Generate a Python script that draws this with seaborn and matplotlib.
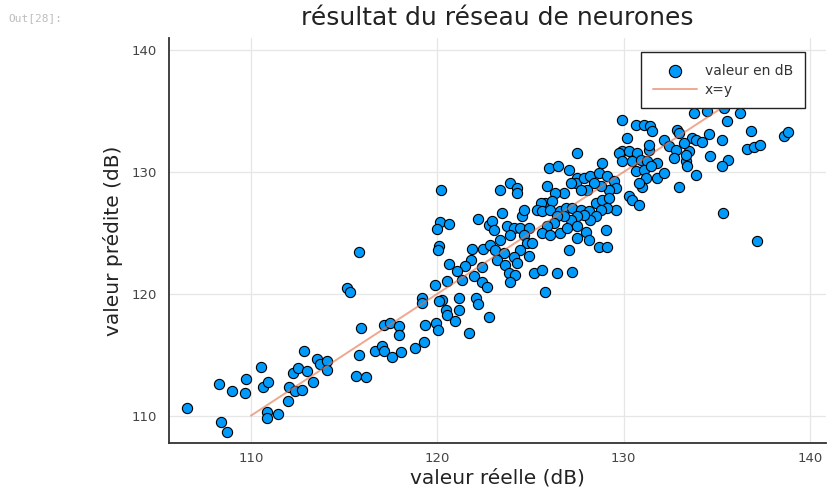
import matplotlib
matplotlib.use("Agg")
import matplotlib.pyplot as plt
import seaborn as sns
import pandas as pd

# --- data ---
valeur_reelle = [
    106.57, 108.26, 108.39, 108.69, 108.99, 109.68, 109.73, 110.52, 110.66, 110.93,
    110.88, 110.84, 111.45, 112.04, 112.01, 112.27, 112.54, 112.37, 112.73, 112.85,
    112.99, 113.32, 113.53, 113.71, 114.10, 114.07, 115.61, 116.15, 115.81, 115.91,
    115.82, 115.14, 115.32, 116.67, 117.03, 117.15, 117.56, 118.05, 117.15, 117.47,
    117.96, 117.96, 118.82, 119.27, 119.32, 119.18, 119.18, 119.95, 120.02, 119.89,
    120.22, 120.16, 120.61, 119.98, 120.07, 120.02, 120.61, 120.52, 120.25, 120.07,
    120.48, 120.52, 121.15, 121.15, 120.97, 121.69, 122.10, 122.17, 122.17, 121.87,
    122.46, 121.81, 121.51, 121.06, 121.33, 121.95, 122.40, 122.40, 122.76, 122.76,
    122.67,
    127.51, 125.98, 126.47, 127.06, 127.51, 127.42, 127.87, 128.22, 128.67, 128.85,
    129.12, 129.48, 129.57, 129.21, 128.76, 128.40, 128.04, 127.69, 127.15, 126.79,
    126.34, 125.89, 125.80, 126.16, 125.54, 125.36, 125.63, 126.07, 126.61, 126.88,
    127.24, 127.69, 128.13, 128.49, 128.85, 129.21, 129.57, 129.12, 128.76, 128.49,
    128.22, 127.87, 127.51, 127.15, 126.79, 126.43, 126.25, 125.89, 125.63, 126.07,
    126.61, 126.97, 127.51, 127.96, 128.13, 127.51, 127.06, 128.67, 129.12, 129.03,
    123.92, 123.39, 124.28, 124.25, 123.47, 122.94, 123.03, 123.74, 124.10, 124.55,
    124.64, 124.46, 124.91, 124.64, 124.82, 125.09, 124.46, 123.92, 123.39, 122.85,
    123.12, 123.56, 123.21, 123.65, 124.10, 124.28, 124.91, 123.83, 124.19, 125.18,
    125.63, 126.43, 127.24, 123.92, 125.77,
    129.89, 130.64, 131.09, 131.41, 131.54, 130.19, 129.93, 129.75, 130.28, 130.73,
    131.36, 131.36, 132.17, 132.88, 132.97, 133.69, 133.87, 132.43, 132.79, 133.51,
    132.70, 133.33, 133.42, 133.87, 133.78, 129.93, 130.46, 130.91, 131.27, 131.81,
    130.64, 131.09, 131.45, 131.18, 131.00, 131.81, 132.17, 130.82, 132.97, 130.28,
    130.46, 130.82, 133.24, 133.33,
    134.49, 135.39, 136.25, 135.53, 136.86, 138.58, 138.83, 136.64, 136.97, 137.33,
    135.26, 134.62, 135.62, 135.30, 135.35, 137.15, 134.22, 134.58,
]
valeur_predite = [
    110.66, 112.58, 109.48, 108.66, 112.05, 111.84, 113.04, 114.03, 112.33, 112.74,
    110.33, 109.79, 110.11, 112.38, 111.23, 113.53, 113.94, 112.05, 112.11, 115.34,
    113.67, 112.77, 114.63, 114.22, 114.49, 113.75, 113.29, 113.18, 114.99, 117.21,
    123.43, 120.47, 120.11, 115.32, 115.75, 115.32, 114.85, 115.26, 117.45, 117.64,
    117.37, 116.66, 115.54, 116.03, 117.40, 119.65, 119.24, 117.59, 117.04, 120.71,
    128.49, 125.92, 125.73, 125.34, 123.94, 123.56, 122.47, 121.07, 119.51, 119.37,
    118.69, 118.27, 119.65, 118.69, 117.81, 116.82, 119.65, 119.18, 126.14, 123.70,
    123.70, 122.79, 122.30, 121.91, 121.15, 121.50, 120.93, 122.24, 118.13, 125.67,
    120.60,
    131.56, 130.32, 130.51, 130.19, 129.50, 129.09, 129.50, 129.64, 129.91, 130.73,
    129.64, 129.23, 128.68, 128.54, 128.82, 129.09, 128.54, 128.54, 129.09, 128.27,
    128.27, 128.87, 127.45, 127.58, 127.45, 126.90, 126.76, 126.90, 126.76, 127.04,
    127.04, 126.90, 126.76, 127.45, 127.72, 127.86, 126.90, 127.04, 126.90, 126.35,
    126.08, 126.49, 126.35, 126.08, 126.35, 126.35, 125.80, 125.53, 124.98, 124.84,
    124.98, 125.39, 125.53, 125.04, 124.43, 124.57, 123.61, 123.88, 123.88, 125.25,
    129.09, 128.54, 128.68, 128.27, 126.62, 125.94, 125.25, 125.53, 125.39, 126.35,
    126.90, 125.39, 125.39, 124.84, 124.16, 124.16, 123.61, 124.84, 124.43, 124.02,
    123.61, 123.34, 122.79, 122.38, 123.06, 122.52, 123.12, 121.69, 121.56, 121.69,
    121.97, 121.69, 121.83, 121.01, 120.18,
    134.29, 133.88, 133.88, 133.75, 133.34, 132.79, 131.69, 131.55, 131.69, 131.55,
    131.83, 132.24, 132.65, 133.47, 133.20, 132.79, 132.65, 132.10, 131.83, 131.69,
    131.14, 130.87, 130.46, 129.77, 134.84, 130.87, 130.87, 131.01, 130.87, 130.73,
    130.05, 130.18, 130.46, 129.50, 128.81, 129.50, 129.91, 129.09, 128.76, 127.99,
    127.72, 127.31, 132.38, 131.42,
    134.98, 135.25, 134.84, 134.16, 133.33, 132.92, 133.28, 131.88, 132.02, 132.24,
    132.65, 131.33, 131.00, 130.51, 126.62, 124.37, 132.43, 133.11,
]
ligne_x = [110, 136]
ligne_y = [110, 136]
ticks_x = [110, 120, 130, 140]
ticks_y = [110, 120, 130, 140]

titre = "résultat du réseau de neurones"
label_x = "valeur réelle (dB)"
label_y = "valeur prédite (dB)"

# --- style ---
sns.set_theme(style="white")
plt.rcParams["font.family"] = ["DejaVu Sans"]

W, H = 827, 495
fig = plt.figure(figsize=(W / 100, H / 100), dpi=100)
ax_l, ax_r, ax_t, ax_b = 169, 826, 38, 443.3
ax = fig.add_axes([ax_l / W, 1 - ax_b / H, (ax_r - ax_l) / W, (ax_b - ax_t) / H])

df = pd.DataFrame({"reelle": valeur_reelle, "predite": valeur_predite})
sns.scatterplot(data=df, x="reelle", y="predite", ax=ax, s=54,
                color="#009AFA", edgecolor="black", linewidth=0.8,
                label="valeur en dB", zorder=3)
sns.lineplot(x=ligne_x, y=ligne_y, ax=ax, color="#E36F47", alpha=0.6,
             linewidth=1.4, label="x=y", zorder=4)

ax.set_xlim(105.6, 140.86)
ax.set_ylim(107.73, 141.0)
ax.set_xticks(ticks_x)
ax.set_yticks(ticks_y)
ax.grid(True, color="#e6e6e6", linewidth=0.9, zorder=0)
ax.set_axisbelow(True)
for s in ["top", "right"]:
    ax.spines[s].set_visible(False)
for s in ["left", "bottom"]:
    ax.spines[s].set_color("#333333")
    ax.spines[s].set_linewidth(1.3)
ax.tick_params(axis="both", direction="in", length=4, width=1.1,
               color="#333333", labelsize=9.5, labelcolor="#444444")
ax.tick_params(axis="x", pad=6.5)
ax.tick_params(axis="y", pad=8.5)

ax.set_xlabel(label_x, fontsize=14.5, color="#222222")
ax.set_ylabel(label_y, fontsize=14.5, color="#222222")
ax.xaxis.set_label_coords(0.5, -(478 - ax_b) / (ax_b - ax_t))
ax.xaxis.label.set_va("center")
ax.yaxis.set_label_coords((113 - ax_l) / (ax_r - ax_l), 0.5)
ax.yaxis.label.set_va("center")

fig.text((ax_l + ax_r) / 2 / W, 1 - 18 / H, titre, ha="center", va="center",
         fontsize=18, color="#222222")
fig.text(8 / W, 1 - 18 / H, "Out[28]:", ha="left", va="center",
         fontsize=8, color="#bdbdbd", family=["DejaVu Sans Mono"])

lw_ = (805 - 641) / (ax_r - ax_l)
lh_ = (108 - 52) / (ax_b - ax_t)
lx0 = (641 - ax_l) / (ax_r - ax_l)
ly1 = 1 - (52 - ax_t) / (ax_b - ax_t)
leg = ax.legend(loc="upper left", bbox_to_anchor=(lx0, ly1 - lh_, lw_, lh_),
                mode="expand", borderaxespad=0, frameon=True, fancybox=False,
                fontsize=10, handlelength=3.2, handletextpad=0.55,
                labelspacing=0.35, borderpad=0.85, markerscale=1.2)
leg.get_frame().set_edgecolor("#222222")
leg.get_frame().set_linewidth(1.0)
leg.get_frame().set_alpha(1)
leg.set_zorder(10)
for t in leg.get_texts():
    t.set_color("#333333")

fig.savefig("out.png", dpi=100)
